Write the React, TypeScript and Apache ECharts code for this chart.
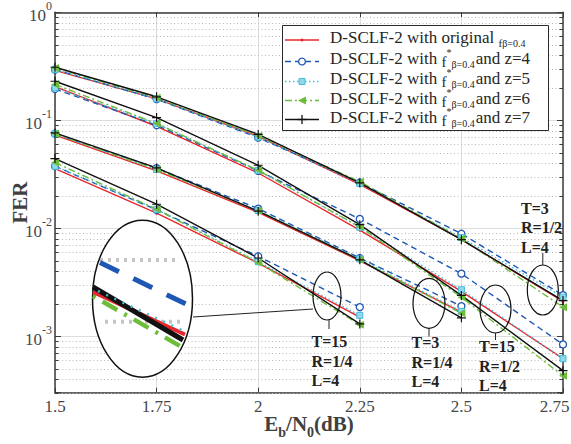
import { useEffect, useRef } from 'react';
import * as echarts from 'echarts';

const FONT = "'Liberation Serif', 'Times New Roman', serif";

// Eb/N0 sample points (dB)
const EBN0 = [1.5, 1.75, 2, 2.25, 2.5, 2.75];
const X_MIN = 1.5;
const X_MAX = 2.75;
const X_STEP = 0.25;
const Y_MIN = 3e-4;
const Y_MAX = 1;

// Code configurations, in the row order of every FER array below
const CODES = ['T=3, R=1/2, L=4', 'T=15, R=1/2, L=4', 'T=3, R=1/4, L=4', 'T=15, R=1/4, L=4'];

// FER of D-SCLF-2 with the original f_{beta=0.4}
const FER_ORIGINAL = [
  [0.29, 0.158, 0.071, 0.0255, 0.0079, 0.0021],
  [0.205, 0.088, 0.0325, 0.0096, 0.0026, 0.00062],
  [0.073, 0.034, 0.014, 0.005, 0.00167],
  [0.0357, 0.0138, 0.00475, 0.0015],
];
// FER with f*_{beta=0.4}, z = 4
const FER_Z4 = [
  [0.295, 0.157, 0.069, 0.0265, 0.0089, 0.0024],
  [0.195, 0.09, 0.034, 0.0122, 0.0038, 0.00084],
  [0.075, 0.036, 0.0152, 0.0053, 0.0019],
  [0.0375, 0.0148, 0.0055, 0.00186],
];
// FER with f*_{beta=0.4}, z = 5
const FER_Z5 = [
  [0.295, 0.158, 0.07, 0.026, 0.0082, 0.0023],
  [0.2, 0.093, 0.0344, 0.0102, 0.0027, 0.00062],
  [0.075, 0.035, 0.0146, 0.0052, 0.0017],
  [0.0375, 0.015, 0.0049, 0.00156],
];
// FER with f*_{beta=0.4}, z = 6
const FER_Z6 = [
  [0.305, 0.162, 0.072, 0.027, 0.008, 0.00186],
  [0.215, 0.0933, 0.0344, 0.0103, 0.0023, 0.00043],
  [0.075, 0.035, 0.0145, 0.0051, 0.00163],
  [0.0406, 0.015, 0.0048, 0.00128],
];
// FER with f*_{beta=0.4}, z = 7
const FER_Z7 = [
  [0.31, 0.165, 0.074, 0.0263, 0.00784, 0.00214],
  [0.23, 0.106, 0.0383, 0.0108, 0.00239, 0.00048],
  [0.0764, 0.0362, 0.0144, 0.0051, 0.00148],
  [0.0442, 0.0167, 0.0053, 0.0013],
];

// log-axis minor grid: mantissas 2..9 of each decade
const MINOR_MANTISSAS = [2, 3, 4, 5, 6, 7, 8, 9];
const DECADES = [1e-4, 1e-3, 1e-2, 1e-1];

const Z_LABELS = ['4', '5', '6', '7'];

const RED = '#e8262b';
const BLUE = '#1f57b4';
const CYAN = '#45bcd8';
const CYAN_FILL = '#93d8e8';
const GREEN = '#6cbd3a';
const BLACK = '#111111';
const AXIS = '#3c3c3c';
const TICK_TEXT = '#474747';
const LEGEND_TEXT = '#262626';

const PLUS = 'path://M-1,-0.13H1V0.13H-1ZM-0.13,-1H0.13V1H-0.13Z';
const TRI_LEFT = 'path://M-1,0L1,-1L1,1Z';

const METHODS = [
  { name: 'original', data: FER_ORIGINAL, color: RED, line: 'solid' as any, symbol: 'circle', size: 3, fill: RED },
  { name: 'z=4', data: FER_Z4, color: BLUE, line: [6, 4], symbol: 'circle', size: 7, fill: '#ffffff' },
  { name: 'z=5', data: FER_Z5, color: CYAN, line: [1.5, 2.5], symbol: 'rect', size: 6, fill: CYAN_FILL },
  { name: 'z=6', data: FER_Z6, color: GREEN, line: [7, 3, 2, 3], symbol: TRI_LEFT, size: 8, fill: GREEN },
  { name: 'z=7', data: FER_Z7, color: BLACK, line: 'solid' as any, symbol: PLUS, size: 9, fill: BLACK },
];

function txt(text: string, x: number, y: number, size: number, opts: any = {}) {
  return {
    type: 'text',
    z: 20,
    style: {
      text,
      x,
      y,
      fontFamily: FONT,
      fontSize: size,
      fontWeight: opts.weight || 'normal',
      fill: opts.fill || LEGEND_TEXT,
      textAlign: opts.align || 'left',
      textVerticalAlign: opts.valign || 'middle',
      lineHeight: opts.lineHeight,
      rich: opts.rich,
    },
  };
}

function seg(x1: number, y1: number, x2: number, y2: number, stroke: string, lineWidth: number, lineDash?: number[], z = 20) {
  return {
    type: 'line',
    z,
    shape: { x1, y1, x2, y2 },
    style: { stroke, lineWidth, lineDash, fill: 'none' },
  };
}

function ellipse(cx: number, cy: number, rx: number, ry: number, fill = 'none', lineWidth = 1.2) {
  return {
    type: 'ellipse',
    z: 19,
    shape: { cx, cy, rx, ry },
    style: { fill, stroke: '#111', lineWidth },
  };
}

// rich-text pieces for f_{beta=0.4} and f*_{beta=0.4}
const LEGEND_RICH = {
  m: { fontFamily: FONT, fontSize: 17, color: LEGEND_TEXT, lineHeight: 22 },
  fs: { fontFamily: FONT, fontSize: 11, color: LEGEND_TEXT, lineHeight: 14, verticalAlign: 'bottom' },
  f: { fontFamily: FONT, fontSize: 15, color: LEGEND_TEXT, lineHeight: 18, verticalAlign: 'bottom' },
  p: { fontFamily: FONT, fontSize: 10, color: LEGEND_TEXT, lineHeight: 14, verticalAlign: 'top' },
  s: { fontFamily: FONT, fontSize: 10, color: LEGEND_TEXT, lineHeight: 10, verticalAlign: 'bottom', padding: [0, 1, 0, 0] },
};

function legendGraphics() {
  const out: any[] = [];
  out.push({
    type: 'rect',
    z: 18,
    shape: { x: 282.5, y: 25.5, width: 266, height: 105 },
    style: { fill: '#ffffff', stroke: '#2a2a2a', lineWidth: 1 },
  });
  const textY = [37, 58, 78.3, 98.3, 117];
  const lineY = [40, 61.5, 81.5, 100.5, 119.5];
  const x0 = 285;
  const x1 = 319;
  const xm = 302;
  METHODS.forEach((m, i) => {
    const ly = lineY[i];
    out.push(seg(x0, ly, x1, ly, m.color, 1.4, Array.isArray(m.line) ? m.line : undefined, 21));
    if (i === 0) {
      out.push({ type: 'circle', z: 22, shape: { cx: xm, cy: ly, r: 1.5 }, style: { fill: RED } });
    } else if (i === 1) {
      out.push({ type: 'circle', z: 22, shape: { cx: xm, cy: ly, r: 3.4 }, style: { fill: '#fff', stroke: BLUE, lineWidth: 1.3 } });
    } else if (i === 2) {
      out.push({ type: 'rect', z: 22, shape: { x: xm - 3, y: ly - 3, width: 6, height: 6 }, style: { fill: CYAN_FILL, stroke: CYAN, lineWidth: 1 } });
    } else if (i === 3) {
      out.push({ type: 'polygon', z: 22, shape: { points: [[xm - 4, ly], [xm + 4, ly - 4], [xm + 4, ly + 4]] }, style: { fill: GREEN } });
    } else {
      out.push(seg(xm - 4.5, ly, xm + 4.5, ly, BLACK, 1.3, undefined, 22));
      out.push(seg(xm, ly - 4.5, xm, ly + 4.5, BLACK, 1.3, undefined, 22));
    }
    const label =
      i === 0
        ? '{m|D-SCLF-2 with original }{fs|f}{s|β=0.4}'
        : `{m|D-SCLF-2 with }{f|f}{p|*}{s|β=0.4}{m|and z=${Z_LABELS[i - 1]}}`;
    out.push(txt(label, 330, textY[i], 17, { rich: LEGEND_RICH }));
  });
  return out;
}

function annotationGraphics() {
  const out: any[] = [];
  const bold = { weight: 'bold', valign: 'top', lineHeight: 19.5, fill: '#222' };
  // ellipses marking each code's curves
  out.push(ellipse(327, 296, 14, 24));
  out.push(ellipse(429, 303.3, 16, 25));
  out.push(ellipse(495.5, 309, 15.5, 24));
  out.push(ellipse(542.8, 290, 15.5, 25));
  // leader lines
  out.push(seg(329, 320, 329, 329, '#222', 1, undefined));
  out.push(seg(429, 328, 429, 336.5, '#222', 1, undefined));
  out.push(seg(495.5, 333, 495.5, 340, '#222', 1, undefined));
  out.push(seg(542.8, 253, 542.8, 265, '#222', 1, undefined));
  out.push(txt('T=15\nR=1/4\nL=4', 311.5, 332, 16, bold));
  out.push(txt('T=3\nR=1/4\nL=4', 411.5, 333, 16, bold));
  out.push(txt('T=15\nR=1/2\nL=4', 479, 337, 16, bold));
  out.push(txt('T=3\nR=1/2\nL=4', 521, 198.5, 16, bold));

  // magnified view of the T=15, R=1/4 curves near 2.2 dB
  out.push(seg(193, 317, 313, 309, '#222', 1, undefined));
  out.push(ellipse(142.5, 298.7, 50, 78.5, '#ffffff', 1.5));
  out.push(seg(100, 260, 178, 260, '#c4c4c4', 4, [3, 5], 21));
  out.push(seg(105, 321.7, 183, 321.7, '#c4c4c4', 4, [3, 5], 21));
  out.push(seg(100, 262.5, 190, 306, BLUE, 5, [21, 16], 22));
  out.push(seg(93, 296, 180, 346, GREEN, 4.5, [3, 8, 17, 8], 22));
  out.push(seg(93, 292, 185, 334.5, RED, 4, undefined, 23));
  out.push(seg(93, 287, 183, 340, BLACK, 5, undefined, 24));
  out.push(seg(98, 291, 186, 332, CYAN, 2.5, [2, 7], 25));
  return out;
}

function buildOption() {
  const minorValues: number[] = [];
  DECADES.forEach((d) =>
    MINOR_MANTISSAS.forEach((m) => {
      const v = m * d;
      if (v >= Y_MIN * 0.999 && v < Y_MAX) minorValues.push(v);
    })
  );

  const series: any[] = [];
  series.push({
    type: 'custom',
    name: 'minor grid',
    silent: true,
    z: 1,
    data: minorValues.map((v) => [X_MIN, v]),
    renderItem: (_params: any, api: any) => {
      const v = api.value(1);
      const p0 = api.coord([X_MIN, v]);
      const p1 = api.coord([X_MAX, v]);
      const y = Math.round(p0[1]) + 0.5;
      return {
        type: 'group',
        children: [
          { type: 'line', shape: { x1: p0[0], y1: y, x2: p1[0], y2: y }, style: { stroke: '#b9b9b9', lineWidth: 1, lineDash: [1, 2.5] } },
          { type: 'line', shape: { x1: p0[0], y1: y, x2: p0[0] + 3.5, y2: y }, style: { stroke: AXIS, lineWidth: 1 } },
          { type: 'line', shape: { x1: p1[0] - 3.5, y1: y, x2: p1[0], y2: y }, style: { stroke: AXIS, lineWidth: 1 } },
        ],
      };
    },
  });

  METHODS.forEach((m) => {
    m.data.forEach((curve, ci) => {
      series.push({
        type: 'line',
        name: `D-SCLF-2 ${m.name} (${CODES[ci]})`,
        data: curve.map((v, i) => [EBN0[i], v]),
        symbol: m.symbol,
        symbolSize: m.size,
        showSymbol: true,
        z: 3,
        lineStyle: { color: m.color, width: 1.4, type: m.line },
        itemStyle: { color: m.fill, borderColor: m.color, borderWidth: m.symbol === 'circle' && m.size > 4 ? 1.3 : m.symbol === 'rect' ? 1 : 0 },
        emphasis: { disabled: true },
      });
    });
  });

  const supFormatter = (value: number) => {
    const e = Math.log10(value);
    const r = Math.round(e);
    if (Math.abs(e - r) > 1e-6) return '';
    return `{b|10}{s|${r}}`;
  };

  return {
    animation: false,
    backgroundColor: '#ffffff',
    textStyle: { fontFamily: FONT },
    grid: { left: 55, right: 8, top: 12.3, bottom: 51.3, containLabel: false, outerBoundsMode: 'none' },
    xAxis: [
      {
        type: 'value',
        min: X_MIN,
        max: X_MAX,
        interval: X_STEP,
        name: '{m|E}{s|b}{m|/N}{s|0}{m|(dB)}',
        nameLocation: 'middle',
        nameGap: 21,
        nameMoveOverlap: false,
        nameTextStyle: {
          rich: {
            m: { fontFamily: FONT, fontSize: 21, fontWeight: 'bold', color: '#404040', lineHeight: 26, verticalAlign: 'top' },
            s: { fontFamily: FONT, fontSize: 14, fontWeight: 'bold', color: '#404040', lineHeight: 16, verticalAlign: 'bottom' },
          },
        },
        axisLine: { show: true, onZero: false, lineStyle: { color: AXIS, width: 1.5 } },
        axisTick: { show: true, inside: true, length: 5, lineStyle: { color: AXIS } },
        axisLabel: {
          margin: 5,
          fontFamily: FONT,
          fontSize: 17,
          color: TICK_TEXT,
          formatter: (v: number) => (Math.abs(v - X_MAX) < 1e-9 ? `{r|${v}}` : `${v}`),
          rich: { r: { fontFamily: FONT, fontSize: 17, color: TICK_TEXT, padding: [0, 17, 0, 0] } },
        },
        splitLine: { show: true, lineStyle: { color: '#dddddd', width: 1 } },
      },
      {
        type: 'value',
        position: 'top',
        min: X_MIN,
        max: X_MAX,
        interval: X_STEP,
        axisLine: { show: true, onZero: false, lineStyle: { color: AXIS, width: 1.5 } },
        axisTick: { show: true, inside: true, length: 5, lineStyle: { color: AXIS } },
        axisLabel: { show: false },
        splitLine: { show: false },
      },
    ],
    yAxis: [
      {
        type: 'log',
        logBase: 10,
        min: Y_MIN,
        max: Y_MAX,
        name: 'FER',
        nameLocation: 'middle',
        nameRotate: 90,
        nameGap: 24.5,
        nameMoveOverlap: false,
        nameTextStyle: { fontFamily: FONT, fontSize: 21, fontWeight: 'bold', color: '#404040' },
        axisLine: { show: true, onZero: false, lineStyle: { color: AXIS, width: 1.5 } },
        axisTick: { show: true, inside: true, length: 6, lineStyle: { color: AXIS } },
        axisLabel: {
          margin: 3,
          formatter: supFormatter,
          rich: {
            b: { fontFamily: FONT, fontSize: 17, color: TICK_TEXT, lineHeight: 24, verticalAlign: 'bottom' },
            s: { fontFamily: FONT, fontSize: 12, color: TICK_TEXT, lineHeight: 12, verticalAlign: 'top' },
          },
        },
        splitLine: { show: true, lineStyle: { color: '#dddddd', width: 1 } },
      },
      {
        type: 'log',
        logBase: 10,
        position: 'right',
        min: Y_MIN,
        max: Y_MAX,
        axisLine: { show: true, onZero: false, lineStyle: { color: AXIS, width: 1.5 } },
        axisTick: { show: true, inside: true, length: 6, lineStyle: { color: AXIS } },
        axisLabel: { show: false },
        splitLine: { show: false },
      },
    ],
    series,
    graphic: { elements: [...annotationGraphics(), ...legendGraphics()] },
  };
}

export default function App() {
  const ref = useRef<HTMLDivElement>(null);
  useEffect(() => {
    document.body.style.margin = '0';
    const chart = echarts.init(ref.current!, undefined, { renderer: 'svg' });
    chart.setOption(buildOption() as any);
    return () => chart.dispose();
  }, []);
  return <div ref={ref} style={{ position: 'absolute', left: 0, top: 0, width: 571, height: 444 }} />;
}
